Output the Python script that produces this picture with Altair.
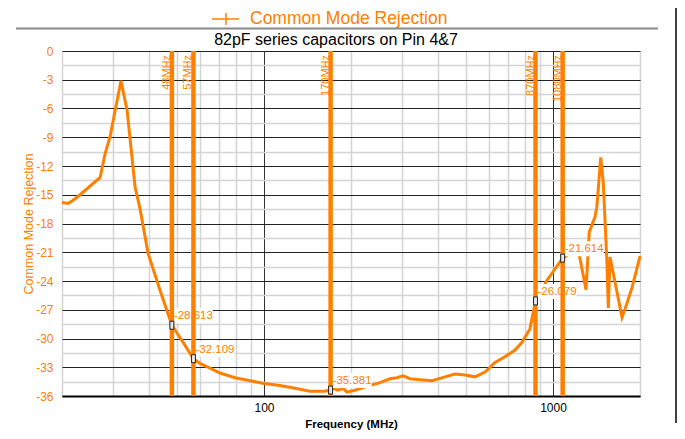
import altair as alt
import pandas as pd

# ---------------- data ----------------
freq = [20, 21.0, 21.8, 23.1, 27.1, 28.2, 29.3, 32.0, 33.6, 35.8,
        37.2, 39.7, 43.7, 48, 52.5, 57, 60.0, 65.0, 70.4, 79.4,
        89.5, 100, 113.6, 128, 144, 162, 170, 173.3, 180.3, 187.7,
        193.7, 206.4, 227, 251.8, 272.8, 288.5, 302.7, 320, 346.6, 381.3,
        423, 458, 496, 537, 582, 630, 682, 739, 781, 832,
        870, 950, 1080, 1220, 1301, 1335, 1361, 1398, 1417, 1424,
        1463, 1493, 1534, 1554, 1575, 1733, 1804, 1877, 2000]
cmr = [-15.8, -15.9, -15.6, -15.0, -13.2, -10.7, -9.0, -3.1, -6.2, -14.2,
       -16.4, -21.1, -25.0, -28.613, -30.4, -32.109, -32.6, -33.1, -33.6, -34.1,
       -34.4, -34.7, -34.9, -35.2, -35.5, -35.5, -35.381, -35.2, -35.4, -35.2,
       -35.6, -35.4, -35.0, -34.6, -34.2, -34.1, -33.9, -34.2, -34.3, -34.4,
       -34.0, -33.7, -33.8, -34.0, -33.5, -32.5, -31.9, -31.2, -30.4, -29.0,
       -26.079, -24.0, -21.614, -20.6, -24.9, -18.9, -18.2, -17.3, -16.3, -15.6,
       -11.1, -13.8, -21.5, -26.8, -21.5, -27.8, -26.3, -24.7, -21.4]

marker_freq = [48, 57, 170, 870, 1080]
marker_val = [-28.613, -32.109, -35.381, -26.079, -21.614]
marker_text = ["-28.613", "-32.109", "-35.381", "-26.079", "-21.614"]
marker_names = ["48MHz", "57MHz", "170MHz", "870MHz", "1080MHz"]

x_grid_values = [20, 30, 40, 50, 60, 70, 80, 90, 100, 200, 300, 400, 500,
                 600, 700, 800, 900, 1000, 2000]
y_grid_values = [-36 + 1.5 * i for i in range(25)]

legend_title = "Common Mode Rejection"
chart_title = "82pF series capacitors on Pin 4&7"
x_title = "Frequency (MHz)"
y_title = "Common Mode Rejection"

ORANGE = "#FF8000"
FONT = "Liberation Sans"

curve_df = pd.DataFrame({"f": freq, "v": cmr})
mk_df = pd.DataFrame({"f": marker_freq, "v": marker_val,
                      "lab": marker_text, "name": marker_names})
dummy = pd.DataFrame({"d": [0]})

xs = alt.Scale(type="log", domain=[20, 2000], nice=False)
ys = alt.Scale(domain=[-36, 0], nice=False)

x_axis = alt.Axis(
    values=x_grid_values,
    labelExpr="(datum.value == 100 || datum.value == 1000) ? '' + datum.value : ''",
    labelOverlap=False,
    grid=True,
    gridColor={"condition": {"test": "datum.value == 100 || datum.value == 1000",
                             "value": "#333333"}, "value": "#d4d4d4"},
    gridWidth={"condition": {"test": "datum.value == 100 || datum.value == 1000",
                             "value": 1}, "value": 1.5},
    ticks=False,
    domainColor="black", domainWidth=2,
    labelColor="black", labelFontSize=12, labelPadding=6, labelFont=FONT,
    title=x_title, titleFontWeight="bold", titleFontSize=11.5, titleColor="black",
    titleFont=FONT, titlePadding=5,
)
y_axis = alt.Axis(
    values=y_grid_values,
    labelExpr="datum.value % 3 == 0 ? '' + datum.value : ''",
    labelOverlap=False,
    grid=True,
    gridColor={"condition": {"test": "datum.value % 3 == 0", "value": "#222222"},
               "value": "#d4d4d4"},
    gridWidth={"condition": {"test": "datum.value % 3 == 0", "value": 1},
               "value": 1.5},
    ticks=False, domain=False,
    labelColor=ORANGE, labelFontSize=12, labelPadding=9, labelFont=FONT,
    title=y_title, titleColor=ORANGE, titleFontWeight="normal", titleFontSize=12.5,
    titleFont=FONT, titlePadding=0,
)


def X():
    return alt.X("f:Q", scale=xs, axis=x_axis)


def Y():
    return alt.Y("v:Q", scale=ys, axis=y_axis)


curve = alt.Chart(curve_df).mark_line(color=ORANGE, strokeWidth=3).encode(
    x=X(), y=Y()
)

boxes = alt.Chart(mk_df).mark_rect(
    color="white", xOffset=-2, x2Offset=41, yOffset=-17, y2Offset=-2
).encode(x=X(), x2=alt.X2("f"), y=Y(), y2=alt.Y2("v"))

vlines = alt.Chart(mk_df).mark_rule(color=ORANGE, strokeWidth=4.5).encode(x=X())

vlabels = alt.Chart(mk_df).mark_text(
    angle=270, align="right", baseline="bottom", xOffset=0,
    fontSize=11, color=ORANGE, font=FONT
).encode(x=X(), y=alt.value(4), text="name:N")

mtext = alt.Chart(mk_df).mark_text(
    align="left", baseline="middle", dy=-9, dx=2,
    fontSize=11.5, color=ORANGE, font=FONT
).encode(x=X(), y=Y(), text="lab:N")

markers = alt.Chart(mk_df).mark_rect(
    fill="#e6e6e6", stroke="#222222", strokeWidth=1,
    xOffset=-2, x2Offset=2, yOffset=-4, y2Offset=4
).encode(x=X(), x2=alt.X2("f"), y=Y(), y2=alt.Y2("v"))

# header decorations (legend, separator, title, frame)
leg_text = alt.Chart(dummy).mark_text(
    text=legend_title, fontSize=17.5, color=ORANGE, font=FONT,
    align="left", baseline="middle"
).encode(x=alt.value(188), y=alt.value(-32.5))
leg_h = alt.Chart(dummy).mark_rule(color=ORANGE, strokeWidth=1.5).encode(
    x=alt.value(150), x2=alt.value(177), y=alt.value(-32))
leg_v = alt.Chart(dummy).mark_rule(color=ORANGE, strokeWidth=1.5).encode(
    x=alt.value(164), y=alt.value(-38), y2=alt.value(-26))
sep = alt.Chart(dummy).mark_rule(color="#888888", strokeWidth=2).encode(
    x=alt.value(-46), x2=alt.value(596), y=alt.value(-22.5))
title_text = alt.Chart(dummy).mark_text(
    text=chart_title, fontSize=16, color="black", font=FONT,
    align="center", baseline="middle"
).encode(x=alt.value(274), y=alt.value(-11.5))
frame_r = alt.Chart(dummy).mark_rule(color="black", strokeWidth=1.5).encode(
    x=alt.value(614), y=alt.value(-43), y2=alt.value(372))

chart = alt.layer(
    curve, boxes, vlines, vlabels, mtext, markers,
    leg_text, leg_h, leg_v, sep, title_text, frame_r
).properties(
    width=578, height=345,
    autosize=alt.AutoSizeParams(type="none"),
    padding={"left": 54, "top": 43, "right": 37, "bottom": 35},
    background="white",
).configure_view(stroke=None).configure(font=FONT)

chart.save("out.html", embed_options={"renderer": "svg", "actions": False})
